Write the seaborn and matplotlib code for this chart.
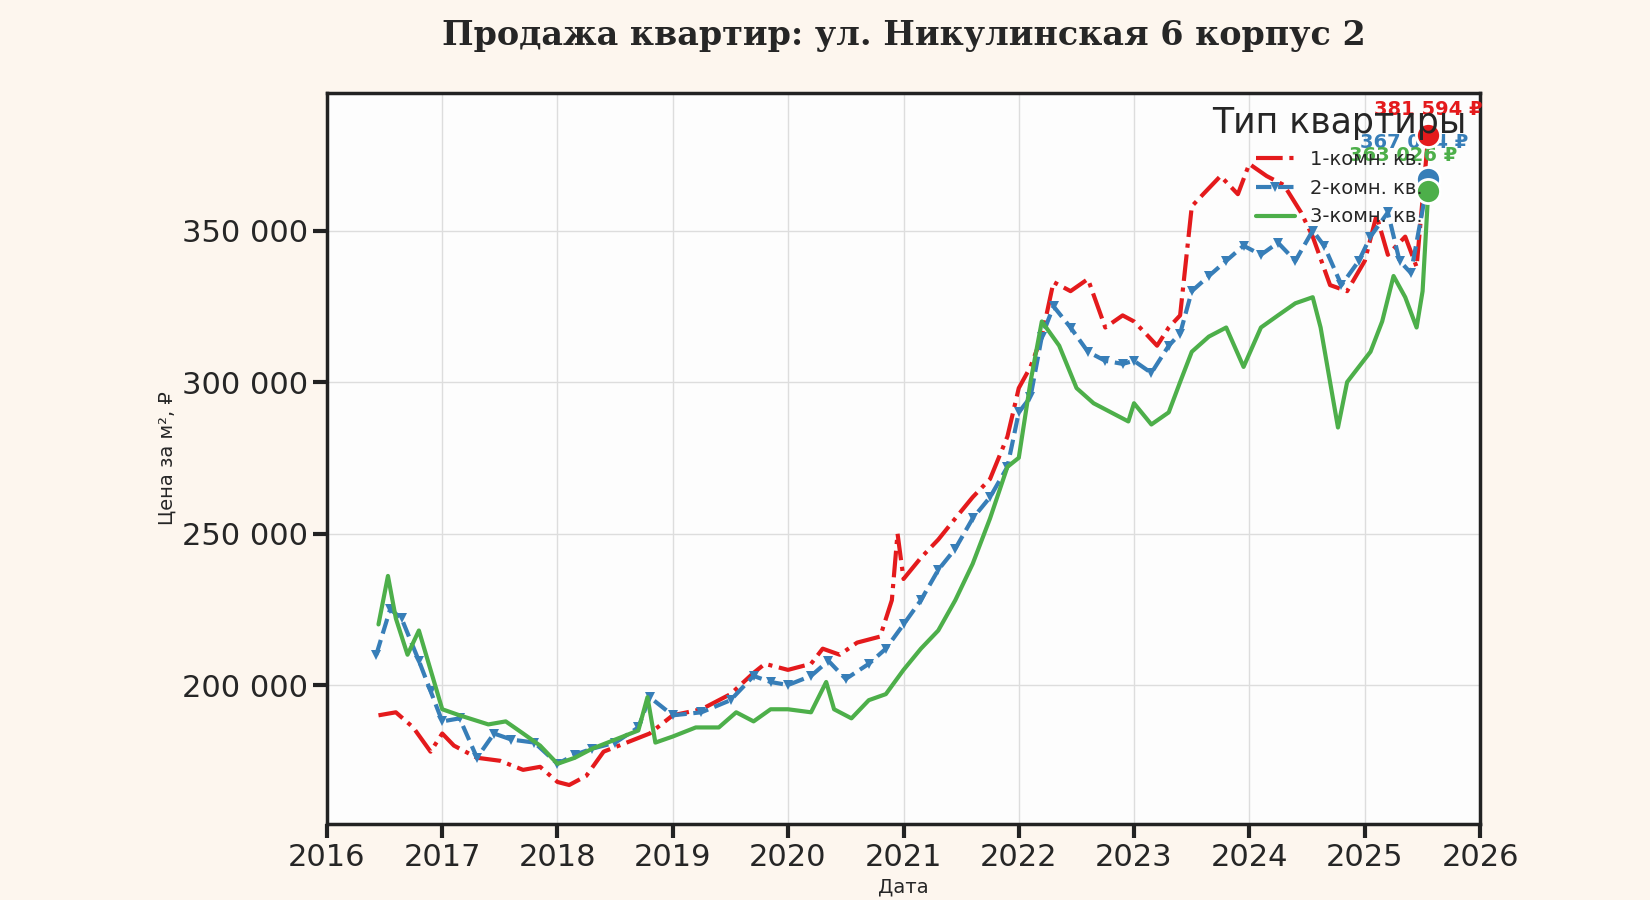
import numpy as np
import pandas as pd
import seaborn as sns
import matplotlib.pyplot as plt
import matplotlib.dates as mdates

# data (year fraction, price per m2)
t1 = [2016.45, 2016.6, 2016.75, 2016.9, 2017.0, 2017.1, 2017.3, 2017.5, 2017.7, 2017.85, 2018.0, 2018.1,
      2018.25, 2018.4, 2018.6, 2018.8, 2019.0, 2019.25, 2019.5, 2019.7, 2019.8, 2020.0, 2020.2, 2020.3,
      2020.45, 2020.6, 2020.8, 2020.9, 2020.95, 2021.0, 2021.15, 2021.3, 2021.45, 2021.6, 2021.75, 2021.9,
      2022.0, 2022.1, 2022.2, 2022.3, 2022.45, 2022.6, 2022.75, 2022.9, 2023.0, 2023.1, 2023.2, 2023.3,
      2023.4, 2023.5, 2023.6, 2023.75, 2023.9, 2024.0, 2024.15, 2024.3, 2024.45, 2024.55, 2024.7, 2024.85,
      2025.0, 2025.1, 2025.2, 2025.35, 2025.45, 2025.55]
v1 = [190000, 191000, 186000, 178000, 184000, 180000, 176000, 175000, 172000, 173000, 168000, 167000,
      170000, 178000, 181000, 184000, 190000, 192000, 197000, 204000, 207000, 205000, 207000, 212000,
      210000, 214000, 216000, 228000, 250000, 235000, 242000, 248000, 255000, 262000, 268000, 282000,
      298000, 305000, 315000, 333000, 330000, 334000, 318000, 322000, 320000, 316000, 312000, 318000,
      322000, 358000, 362000, 368000, 362000, 372000, 368000, 365000, 356000, 348000, 332000, 330000,
      340000, 355000, 342000, 348000, 338000, 381594]

t2 = [2016.43, 2016.55, 2016.65, 2016.8, 2016.9, 2017.0, 2017.15, 2017.3, 2017.45, 2017.6, 2017.8, 2018.0,
      2018.15, 2018.3, 2018.5, 2018.7, 2018.8, 2019.0, 2019.25, 2019.5, 2019.7, 2019.85, 2020.0, 2020.2,
      2020.35, 2020.5, 2020.7, 2020.85, 2021.0, 2021.15, 2021.3, 2021.45, 2021.6, 2021.75, 2021.9, 2022.0,
      2022.1, 2022.2, 2022.3, 2022.45, 2022.6, 2022.75, 2022.9, 2023.0, 2023.15, 2023.3, 2023.4, 2023.5,
      2023.65, 2023.8, 2023.95, 2024.1, 2024.25, 2024.4, 2024.55, 2024.65, 2024.8, 2024.95, 2025.05, 2025.2,
      2025.3, 2025.4, 2025.55]
v2 = [210000, 225000, 222000, 208000, 198000, 188000, 189000, 176000, 184000, 182000, 181000, 174000,
      177000, 179000, 181000, 186000, 196000, 190000, 191000, 195000, 203000, 201000, 200000, 203000,
      208000, 202000, 207000, 212000, 220000, 228000, 238000, 245000, 255000, 262000, 272000, 290000,
      295000, 315000, 325000, 318000, 310000, 307000, 306000, 307000, 303000, 312000, 316000, 330000,
      335000, 340000, 345000, 342000, 346000, 340000, 350000, 345000, 332000, 340000, 348000, 356000,
      340000, 336000, 367014]

t3 = [2016.45, 2016.53, 2016.6, 2016.7, 2016.8, 2016.9, 2017.0, 2017.15, 2017.4, 2017.55, 2017.7, 2017.85,
      2018.0, 2018.15, 2018.3, 2018.5, 2018.7, 2018.78, 2018.85, 2019.0, 2019.2, 2019.4, 2019.55, 2019.7,
      2019.85, 2020.0, 2020.2, 2020.33, 2020.4, 2020.55, 2020.7, 2020.85, 2021.0, 2021.15, 2021.3, 2021.45,
      2021.6, 2021.75, 2021.9, 2022.0, 2022.1, 2022.2, 2022.35, 2022.5, 2022.65, 2022.8, 2022.95, 2023.0,
      2023.15, 2023.3, 2023.4, 2023.5, 2023.65, 2023.8, 2023.95, 2024.1, 2024.25, 2024.4, 2024.55, 2024.62,
      2024.7, 2024.77, 2024.85, 2024.95, 2025.05, 2025.15, 2025.25, 2025.35, 2025.45, 2025.5, 2025.55]
v3 = [220000, 236000, 222000, 210000, 218000, 205000, 192000, 190000, 187000, 188000, 184000, 180000,
      174000, 176000, 179000, 182000, 185000, 196000, 181000, 183000, 186000, 186000, 191000, 188000,
      192000, 192000, 191000, 201000, 192000, 189000, 195000, 197000, 205000, 212000, 218000, 228000,
      240000, 255000, 272000, 275000, 300000, 320000, 312000, 298000, 293000, 290000, 287000, 293000,
      286000, 290000, 300000, 310000, 315000, 318000, 305000, 318000, 322000, 326000, 328000, 318000,
      300000, 285000, 300000, 305000, 310000, 320000, 335000, 328000, 318000, 330000, 363026]

names = ['1-комн. кв.', '2-комн. кв.', '3-комн. кв.']
colors = ['#e41a1c', '#377eb8', '#4daf4a']


def to_date(years):
    years = np.array(years)
    y = years.astype(int)
    days = ((years - y) * 365.25).round().astype(int)
    return pd.to_datetime(y.astype(str), format='%Y') + pd.to_timedelta(days, unit='D')


df = pd.concat([
    pd.DataFrame({'Дата': to_date(t), 'Цена': v, 'Тип квартиры': n})
    for t, v, n in zip([t1, t2, t3], [v1, v2, v3], names)
])

sns.set_theme(style='whitegrid', rc={'figure.facecolor': '#fdf6ee', 'axes.facecolor': '#fdfdfd',
                                     'axes.edgecolor': '#222222', 'grid.color': '#dddddd'})
fig, ax = plt.subplots(figsize=(16.5, 9), dpi=100)
fig.subplots_adjust(left=0.198, right=0.897, top=0.897, bottom=0.084)

styles = [dict(ls='-.', marker=None), dict(ls='--', marker='v', markersize=7), dict(ls='-', marker=None)]
for n, c, st in zip(names, colors, styles):
    d = df[df['Тип квартиры'] == n]
    sns.lineplot(data=d, x='Дата', y='Цена', color=c, linewidth=3, label=n, ax=ax,
                 linestyle=st['ls'], marker=st['marker'], markersize=st.get('markersize', 0),
                 markeredgewidth=0)

# end points with labels
offs = [(0, 14), (-10, 22), (-18, 22)]
for (t, v), c, o in zip([(t1, v1), (t2, v2), (t3, v3)], colors, offs):
    d = to_date([t[-1]])[0]
    ax.scatter([d], [v[-1]], s=300, color=c, edgecolor='white', linewidth=2, zorder=5)
    ax.annotate(f'{v[-1]:,}'.replace(',', ' ') + ' ₽', (d, v[-1]), xytext=o,
                textcoords='offset points', ha='center', color=c, fontsize=14, fontweight='bold')

ax.set_xlim(pd.Timestamp('2016-01-01'), pd.Timestamp('2026-01-01'))
ax.set_ylim(154000, 395500)
ax.xaxis.set_major_locator(mdates.YearLocator())
ax.xaxis.set_major_formatter(mdates.DateFormatter('%Y'))
ax.yaxis.set_major_locator(plt.MultipleLocator(50000))
ax.yaxis.set_major_formatter(plt.FuncFormatter(lambda x, p: f'{int(x):,}'.replace(',', ' ')))
ax.tick_params(labelsize=22, length=10, width=3, bottom=True, left=True, color='#222222')
for s in ax.spines.values():
    s.set_linewidth(2.5)
ax.set_ylabel('Цена за м², ₽', fontsize=14)
ax.set_xlabel('Дата', fontsize=14)
ax.set_title('Продажа квартир: ул. Никулинская 6 корпус 2', family='DejaVu Serif',
             fontsize=24, fontweight='bold', pad=34)
leg = ax.legend(title='Тип квартиры', loc='upper right', frameon=False, fontsize=14,
                title_fontsize=25, borderaxespad=0.3)

fig.savefig('out.png', facecolor=fig.get_facecolor())
